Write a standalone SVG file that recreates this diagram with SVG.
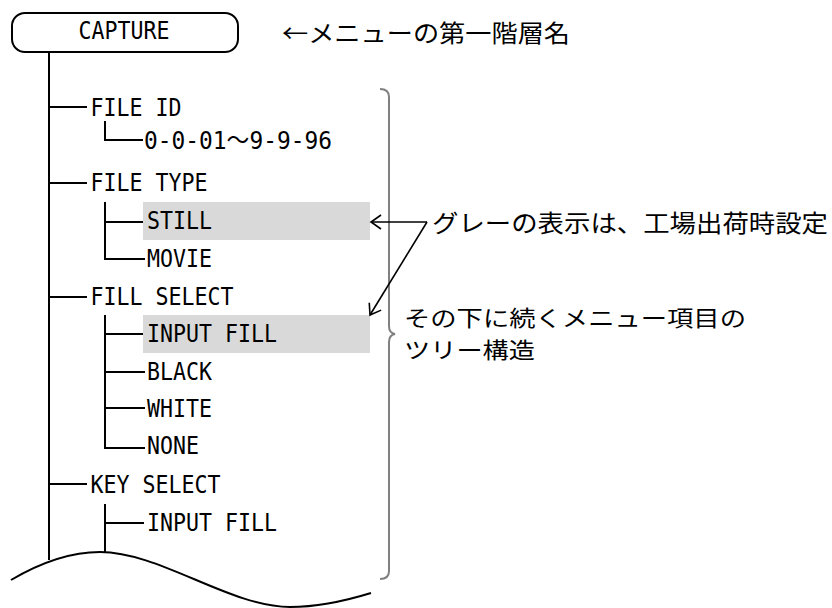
<svg xmlns="http://www.w3.org/2000/svg" width="832" height="608" viewBox="0 0 832 608">
<style>
.tree{stroke:#000;stroke-width:2;fill:none}
.lbl{font-family:"DejaVu Sans Mono","Liberation Mono","Noto Sans CJK JP",monospace;font-size:25px;fill:#000}
.jp{font-family:"Noto Sans CJK JP","Noto Sans",sans-serif;font-size:24px;fill:#000}
.jp2{font-family:"Noto Sans CJK JP","Noto Sans",sans-serif;font-size:22px;fill:#000}
.hl{fill:#d9d9d9}
.arr{stroke:#000;stroke-width:1.6;fill:none}
.brace{stroke:#808080;stroke-width:2;fill:none}
</style>
<defs>
<marker id="ah" markerUnits="userSpaceOnUse" markerWidth="14" markerHeight="18" viewBox="0 0 14 18" refX="11" refY="9" orient="auto">
<path d="M1,2 L11,9 L1,16" fill="none" stroke="#000" stroke-width="1.6"/>
</marker>
</defs>
<rect width="832" height="608" fill="#fff"/>
<g id="highlights">
<rect class="hl" x="143" y="202" width="227" height="38"/>
<rect class="hl" x="143" y="315" width="227" height="38"/>
</g>
<g id="connectors">
<path class="tree" d="M49,52 V560"/>
<path class="tree" d="M49,107 H87 M49,183 H87 M49,297 H87 M49,484 H87"/>
<path class="tree" d="M105,121 V140 H143"/>
<path class="tree" d="M105,202 V259 H145 M105,222 H143"/>
<path class="tree" d="M105,315 V448 H145 M105,334 H143 M105,372 H145 M105,408 H145"/>
<path class="tree" d="M105,504 V553 M105,523 H144"/>
<path class="tree" d="M11,580 C45,560 75,552 100,552 C160,552 230,607 290,607 C320,607 345,601 371,593"/>
<path class="brace" d="M380,89 Q389,89 389,97 L389,326 Q389,333 395,334 Q389,335 389,342 L389,571 Q389,579 380,579"/>
<path class="arr" d="M427,222 H371" marker-end="url(#ah)"/>
<path class="arr" d="M427,222 L370,315" marker-end="url(#ah)"/>
</g>
<g id="capture">
<rect x="12" y="13" width="226" height="39" rx="13" ry="13" fill="#fff" stroke="#000" stroke-width="2"/>
<text class="lbl" x="124" y="39" text-anchor="middle" textLength="91" lengthAdjust="spacingAndGlyphs">CAPTURE</text>
</g>
<g id="file-id"><text class="lbl" x="90.5" y="116" textLength="91" lengthAdjust="spacingAndGlyphs">FILE ID</text></g>
<g id="file-id-range"><text class="lbl" x="144" y="149" textLength="188" lengthAdjust="spacingAndGlyphs">0-0-01～9-9-96</text></g>
<g id="file-type"><text class="lbl" x="90.5" y="191" textLength="117" lengthAdjust="spacingAndGlyphs">FILE TYPE</text></g>
<g id="still"><text class="lbl" x="147" y="229" textLength="65" lengthAdjust="spacingAndGlyphs">STILL</text></g>
<g id="movie"><text class="lbl" x="147" y="267" textLength="65" lengthAdjust="spacingAndGlyphs">MOVIE</text></g>
<g id="fill-select"><text class="lbl" x="90.5" y="305" textLength="143" lengthAdjust="spacingAndGlyphs">FILL SELECT</text></g>
<g id="input-fill-1"><text class="lbl" x="147" y="342" textLength="130" lengthAdjust="spacingAndGlyphs">INPUT FILL</text></g>
<g id="black"><text class="lbl" x="147" y="380" textLength="65" lengthAdjust="spacingAndGlyphs">BLACK</text></g>
<g id="white"><text class="lbl" x="147" y="417" textLength="65" lengthAdjust="spacingAndGlyphs">WHITE</text></g>
<g id="none"><text class="lbl" x="147" y="454" textLength="52" lengthAdjust="spacingAndGlyphs">NONE</text></g>
<g id="key-select"><text class="lbl" x="90.5" y="493" textLength="130" lengthAdjust="spacingAndGlyphs">KEY SELECT</text></g>
<g id="input-fill-2"><text class="lbl" x="147" y="531" textLength="130" lengthAdjust="spacingAndGlyphs">INPUT FILL</text></g>
<g id="note-top"><text class="jp" x="282" y="42" textLength="288" lengthAdjust="spacingAndGlyphs">←メニューの第一階層名</text></g>
<g id="note-gray"><text class="jp" x="432" y="232" textLength="396" lengthAdjust="spacingAndGlyphs">グレーの表示は、工場出荷時設定</text></g>
<g id="note-tree">
<text class="jp2" x="404" y="326" textLength="342" lengthAdjust="spacingAndGlyphs">その下に続くメニュー項目の</text>
<text class="jp2" x="404" y="358" textLength="131" lengthAdjust="spacingAndGlyphs">ツリー構造</text>
</g>
</svg>
